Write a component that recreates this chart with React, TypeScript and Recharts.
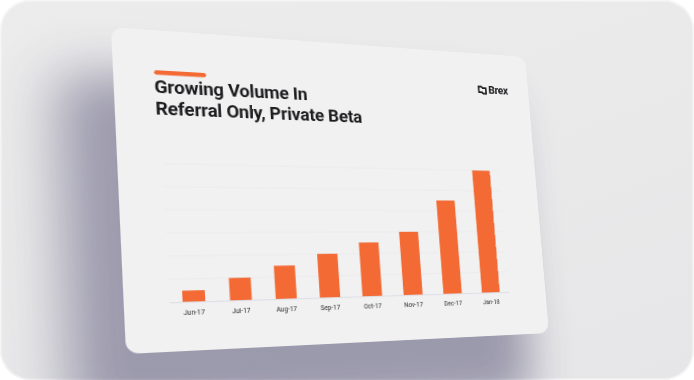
import React from 'react';
import { BarChart, Bar, XAxis, YAxis, CartesianGrid } from 'recharts';

const months = ['Jun-17', 'Jul-17', 'Aug-17', 'Sep-17', 'Oct-17', 'Nov-17', 'Dec-17', 'Jan-18'];
const volume = [1, 2, 3, 4, 5, 6, 9, 12];
const yTicks = [0, 2, 4, 6, 8, 10, 12];
const titleLines = ['Growing Volume In', 'Referral Only, Private Beta'];
const brand = 'Brex';

const data = months.map((m, i) => ({ month: m, volume: volume[i] }));

const CW = 440;
const CH = 320;
// corners of the tilted card on the page (TL, TR, BR, BL)
const quad: number[][] = [[111, 27], [525, 57], [549, 333], [126, 354]];

function homography(W: number, H: number, q: number[][]) {
  const [[x0, y0], [x1, y1], [x2, y2], [x3, y3]] = q;
  const dx1 = x1 - x2, dx2 = x3 - x2, dy1 = y1 - y2, dy2 = y3 - y2;
  const sx = x0 - x1 + x2 - x3, sy = y0 - y1 + y2 - y3;
  const den = dx1 * dy2 - dx2 * dy1;
  const g = (sx * dy2 - dx2 * sy) / den;
  const h = (dx1 * sy - sx * dy1) / den;
  const a = x1 - x0 + g * x1, b = x3 - x0 + h * x3, c = x0;
  const d = y1 - y0 + g * y1, e = y3 - y0 + h * y3, f = y0;
  return `matrix3d(${a / W},${d / W},0,${g / W},${b / H},${e / H},0,${h / H},0,0,1,0,${c},${f},0,1)`;
}

const ORANGE = '#F36A35';
const INK = '#1c1c1f';

export default function App() {
  const transform = homography(CW, CH, quad);
  return (
    <div
      style={{
        position: 'absolute',
        left: 0,
        top: 0,
        width: 694,
        height: 380,
        borderRadius: 30,
        overflow: 'hidden',
        background: 'linear-gradient(160deg, #ececec 0%, #e9e9ea 60%, #e6e6e8 100%)',
        boxShadow: 'inset 0 0 0 1.5px #f6f6f6',
      }}
    >
      <div
        style={{
          position: 'absolute',
          left: 0,
          top: 0,
          width: CW,
          height: CH,
          transformOrigin: '0 0',
          transform,
          background: '#f1f1f1',
          borderRadius: 12,
          boxShadow: '-38px 60px 50px 12px rgba(62,58,98,0.45)',
        }}
      >
        <svg width={CW} height={CH} style={{ position: 'absolute', left: 0, top: 0 }}>
          <rect x={37.4} y={40.9} width={49} height={4.6} rx={2.3} fill={ORANGE} />
          <text x={37} y={64.5} fontFamily="Roboto" fontWeight={700} fontSize={18} letterSpacing={-0.2} fill={INK}>
            {titleLines[0]}
          </text>
          <text x={37} y={86.4} fontFamily="Roboto" fontWeight={700} fontSize={18} letterSpacing={-0.2} fill={INK}>
            {titleLines[1]}
          </text>
          <path
            d="M379.5 38.5 h3.5 l1.5 1.5 h3.5 v6.5 h-3.5 l-1.5 -1.5 h-3.5 z"
            fill="none"
            stroke={INK}
            strokeWidth={1.8}
            strokeLinejoin="miter"
          />
          <text x={391} y={46.5} fontFamily="Roboto" fontWeight={700} fontSize={12.5} letterSpacing={-0.5} fill={INK}>
            {brand}
          </text>
        </svg>
        <div style={{ position: 'absolute', left: 0, top: 0 }}>
          <BarChart width={CW} height={CH} data={data} margin={{ top: 135.2, right: 44, left: 41, bottom: 0 }}>
            <CartesianGrid vertical={false} stroke="#ebebed" />
            <XAxis
              dataKey="month"
              height={47.4}
              interval={0}
              tickLine={false}
              tickSize={0}
              tickMargin={8}
              axisLine={{ stroke: '#dddee6' }}
              tick={{ fontSize: 6.5, fill: '#2a2a2a', fontFamily: 'Roboto' }}
            />
            <YAxis hide domain={[0, 12]} ticks={yTicks} interval={0} />
            <Bar dataKey="volume" fill={ORANGE} barSize={21} isAnimationActive={false} />
          </BarChart>
        </div>
      </div>
    </div>
  );
}
